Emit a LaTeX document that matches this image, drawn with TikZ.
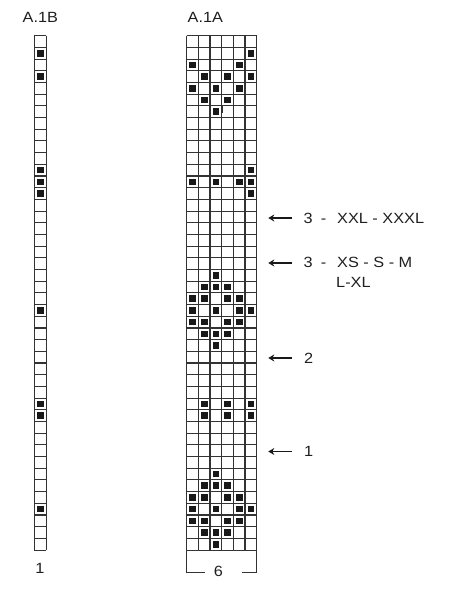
\documentclass[tikz,border=0pt]{standalone}
\usepackage{fontspec}
\setmainfont{Liberation Sans}[FakeStretch=1.1]
\usetikzlibrary{arrows.meta}
\begin{document}
\begin{tikzpicture}[x=1pt,y=-1pt,
  gridline/.style={draw=black!80, line width=1.1pt},
  stitch/.style={fill=black!90},
  lbl/.style={inner sep=0pt, font=\fontsize{14.8}{17}\selectfont, text=black!88},
  pointer/.style={{Stealth[length=6pt,width=7pt]}-, line width=1.3pt, draw=black!90},
]
\useasboundingbox (0,0) rectangle (455,600);
\def\rh{11.69}
\def\cw{11.667}
\def\gtop{35.7}
\def\gbot{550}
% ---------- A.1A grid ----------
\def\ax{186.7}
\foreach \i in {0,...,44}
  \draw[gridline] (\ax,{\gtop+\i*\rh}) -- ({\ax+6*\cw},{\gtop+\i*\rh});
\foreach \j in {0,...,6}
  \draw[gridline] ({\ax+\j*\cw},\gtop) -- ({\ax+\j*\cw},\gbot);
\foreach \r/\cs in {1/{5},2/{0,4},3/{1,3,5},4/{0,2,4},5/{1,3},6/{2},
  11/{5},12/{0,2,4,5},13/{5},
  20/{2},21/{1,2,3},22/{0,1,3,4},23/{0,2,4,5},24/{0,1,3,4},25/{1,2,3},26/{2},
  31/{1,3,5},32/{1,3,5},
  37/{2},38/{1,2,3},39/{0,1,3,4},40/{0,2,4,5},41/{0,1,3,4},42/{1,2,3},43/{2}}
{
  \foreach \c in \cs
    \fill[stitch] ({\ax+(\c+0.5)*\cw-3.3},{\gtop+(\r+0.5)*\rh-3.3}) rectangle ++(6.6,6.6);
}
% small mark on the grid line
\draw[line width=1.4pt, black!80] (222.4,105.5) -- (222.4,113);
% ---------- A.1B grid ----------
\def\bx{34.4}
\foreach \i in {0,...,44}
  \draw[gridline] (\bx,{\gtop+\i*\rh}) -- ({\bx+\cw},{\gtop+\i*\rh});
\foreach \j in {0,1}
  \draw[gridline] ({\bx+\j*\cw},\gtop) -- ({\bx+\j*\cw},\gbot);
\foreach \r in {1,3,11,12,13,23,31,32,40}
  \fill[stitch] ({\bx+0.5*\cw-3.3},{\gtop+(\r+0.5)*\rh-3.3}) rectangle ++(6.6,6.6);
% ---------- headers and numbers ----------
\node[lbl, anchor=base] (hB) at (40.3,22.7) {A.1B};
\node[lbl, anchor=base] (hA) at (205.3,22.7) {A.1A};
\node[lbl, anchor=base] (nB) at (39.8,573.3) {1};
\node[lbl, anchor=base] (n6) at (218.3,576.7) {6};
% bracket
\coordinate (bl) at (\ax,\gbot);
\coordinate (br) at ({\ax+6*\cw},\gbot);
\coordinate (bl2) at (205,572.7);
\coordinate (br2) at (241.7,572.7);
\draw[gridline] (bl) |- (bl2);
\draw[gridline] (br) |- (br2);
% ---------- pointers ----------
\coordinate (t1) at (268.3,218); \coordinate (s1) at (291.7,218);
\coordinate (t2) at (268.3,263); \coordinate (s2) at (291.7,263);
\coordinate (t3) at (268.3,358); \coordinate (s3) at (291.7,358);
\coordinate (t4) at (268.3,451.5); \coordinate (s4) at (291.7,451.5);
\draw[pointer] (t1) -- (s1);
\draw[pointer] (t2) -- (s2);
\draw[pointer] (t3) -- (s3);
\draw[pointer] (t4) -- (s4);
\node[lbl, anchor=base west] (a1n) at (303.5,223.3) {3};
\node[lbl, anchor=base] (a1d) at (323.7,223.3) {-};
\node[lbl, anchor=base west] (a1s) at (337,223.3) {XXL - XXXL};
\node[lbl, anchor=base west] (a2n) at (303.5,267.7) {3};
\node[lbl, anchor=base] (a2d) at (323.7,267.7) {-};
\node[lbl, anchor=base west] (a2s) at (337,267.7) {XS - S - M};
\node[lbl, anchor=base west] (a2t) at (336,287.3) {L-XL};
\node[lbl, anchor=base west] (a3n) at (304,363.3) {2};
\node[lbl, anchor=base west] (a4n) at (304,456.7) {1};
\end{tikzpicture}
\end{document}
